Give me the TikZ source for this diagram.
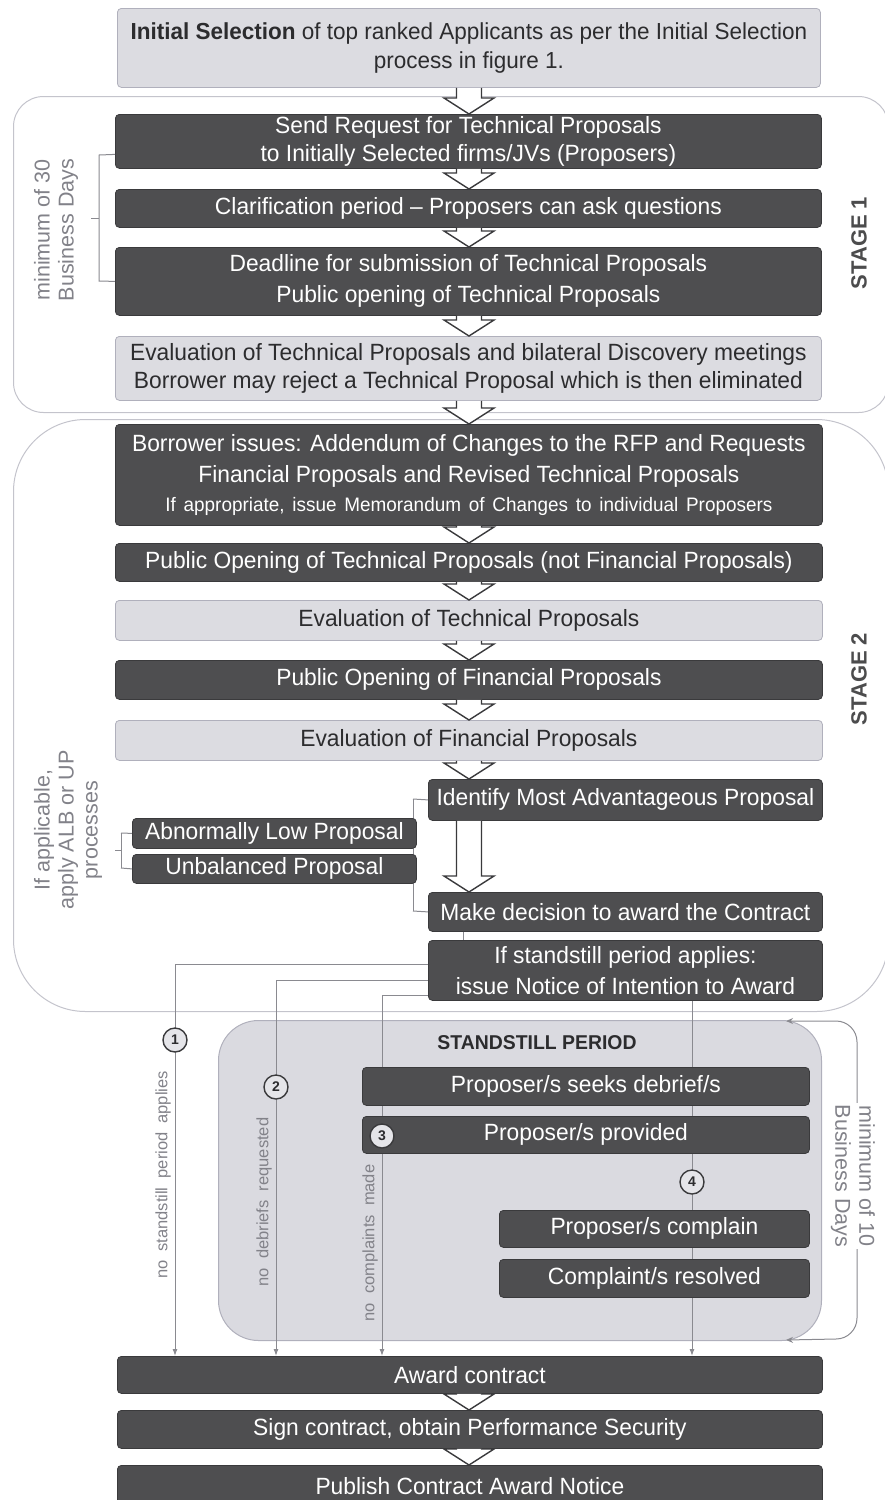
\documentclass[tikz,border=0pt]{standalone}
\usepackage{fontspec}
\setmainfont{Liberation Sans}
\newfontfamily\bxfont{Liberation Sans}[FakeStretch=0.97]
\usetikzlibrary{arrows.meta,calc}
\definecolor{dk}{HTML}{4E4E50}
\definecolor{dkedge}{HTML}{3A3A3C}
\definecolor{lt}{HTML}{DCDCE1}
\definecolor{ltedge}{HTML}{B0B0BC}
\definecolor{stageedge}{HTML}{C4C4CC}
\definecolor{ssfill}{HTML}{DADAE0}
\definecolor{conn}{HTML}{8A8A90}
\definecolor{sidetxt}{HTML}{828289}
\definecolor{txt}{HTML}{2C2C2E}
\newcommand\widesp[1]{\spaceskip=#1\relax}
\newcommand\holarrow[2]{%
  \draw[holstyle] let \p1=(#1.south), \p2=(#2.north), \p3=(469,0) in
    (\x3-12.5pt,\y1) -- (\x3-12.5pt,\y2+16pt) -- (\x3-25pt,\y2+16pt) -- (\x3,\y2)
    -- (\x3+25pt,\y2+16pt) -- (\x3+12.5pt,\y2+16pt) -- (\x3+12.5pt,\y1);}
\begin{document}
\begin{tikzpicture}[x=1pt,y=-1pt,
  darkbox/.style={rectangle, rounded corners=4pt, fill=dk, draw=dkedge, line width=0.8pt,
    text=white, align=center, inner sep=0pt, anchor=north west,
    font=\bxfont\fontsize{23.5}{28}\selectfont},
  lightbox/.style={darkbox, fill=lt, draw=ltedge, text=txt},
  stagebox/.style={rectangle, draw=stageedge, fill=white, line width=1pt, anchor=north west, inner sep=0pt},
  ssbox/.style={rectangle, rounded corners=40pt, draw=ltedge, fill=ssfill, line width=1pt, anchor=north west, inner sep=0pt},
  holstyle/.style={draw=dkedge, fill=white, line width=1.4pt, line join=miter},
  connline/.style={draw=conn, line width=1pt},
  connarrow/.style={connline, -{Latex[length=7pt,width=5pt]}},
  brk/.style={draw=conn, line width=1pt},
  numcirc/.style={circle, draw=dkedge, fill=ssfill!70!white, line width=1.4pt, minimum size=24pt, inner sep=0pt,
    font=\bfseries\fontsize{14}{14}\selectfont, text=txt},
  sidelabel/.style={text=sidetxt, align=center, font=\fontsize{21.5}{24}\selectfont},
  condlabel/.style={text=sidetxt, font=\fontsize{16.5}{18}\selectfont, rotate=90},
  stagelabel/.style={text=txt!85!white, font=\bfseries\fontsize{22}{24}\selectfont, rotate=90}
]
\useasboundingbox (0,0) rectangle (884,1500);

% containers
\node[stagebox, rounded corners=30pt, minimum width=875pt, minimum height=316pt] (st1) at (13,96) {};
\node[stagebox, rounded corners=72pt, minimum width=875pt, minimum height=592pt] (st2) at (13,419) {};
\node[ssbox, minimum width=603pt, minimum height=320pt] (ss) at (218,1020) {};

% boxes
\node[lightbox, minimum width=703pt, minimum height=79pt, font=\bxfont\fontsize{23.2}{29}\selectfont] (top) at (117,8)
  {\textbf{Initial Selection} of top ranked Applicants as per the Initial Selection\\process in figure 1.};
\node[darkbox, minimum width=706pt, minimum height=54pt] (send) at (115,114)
  {Send Request for Technical Proposals\\to Initially Selected firms/JVs (Proposers)};
\node[darkbox, minimum width=706pt, minimum height=38pt] (clar) at (115,189)
  {Clarification period – Proposers can ask questions};
\node[darkbox, minimum width=706pt, minimum height=68pt] (dead) at (115,247)
  {Deadline for submission of Technical Proposals\\[3pt]Public opening of Technical Proposals};
\node[lightbox, minimum width=706pt, minimum height=64pt] (evt1) at (115,336)
  {Evaluation of Technical Proposals and bilateral Discovery meetings\\Borrower may reject a Technical Proposal which is then eliminated};
\node[darkbox, minimum width=707pt, minimum height=101pt] (borr) at (115,424)
  {Borrower issues: Addendum of Changes to the RFP and Requests\\[3pt]Financial Proposals and Revised Technical Proposals\\[1pt]
   {\fontsize{19.5}{24}\selectfont\widesp{0.4em}If appropriate, issue Memorandum of Changes to individual Proposers}};
\node[darkbox, minimum width=707pt, minimum height=38pt] (pot) at (115,543)
  {Public Opening of Technical Proposals (not Financial Proposals)};
\node[lightbox, minimum width=707pt, minimum height=40pt] (evt2) at (115,600)
  {Evaluation of Technical Proposals};
\node[darkbox, minimum width=707pt, minimum height=39pt] (pof) at (115,660)
  {Public Opening of Financial Proposals};
\node[lightbox, minimum width=707pt, minimum height=40pt] (evf) at (115,720)
  {Evaluation of Financial Proposals};

% brackets
\draw[brk] ([yshift=-13pt]send.west) -- (99,155) -- (99,281) -- (dead.west);
\draw[brk] (99,218) -- (91,218);
\draw[brk] (413,799) -- (413,911);
\draw[brk] (121,833) -- (121,868);
\draw[brk] (121,850) -- (115,850);

\coordinate (xa) at (175,0);
\coordinate (xb) at (276,0);
\coordinate (xc) at (382,0);
\coordinate (xd) at (692,0);
\coordinate (xm) at (463,0);

\node[darkbox, minimum width=394pt, minimum height=41pt] (ident) at (428,779)
  {Identify Most Advantageous Proposal};
\node[darkbox, minimum width=284pt, minimum height=30pt] (abn) at (132,818)
  {Abnormally Low Proposal};
\node[darkbox, minimum width=284pt, minimum height=29pt] (unb) at (132,854)
  {Unbalanced Proposal};
\node[darkbox, minimum width=394pt, minimum height=39pt] (make) at (428,892)
  {Make decision to award the Contract};
\node[darkbox, minimum width=394pt, minimum height=60pt] (notice) at (428,940)
  {If standstill period applies:\\[3pt]issue Notice of Intention to Award};
\node[darkbox, minimum width=705pt, minimum height=37pt] (award) at (117,1356)
  {Award contract};

\draw[brk] (ident.west) -- (413,799);
\draw[brk] (make.west) -- (413,911);
\draw[brk] (abn.west) -- (121,833);
\draw[brk] (unb.west) -- (121,868);

\draw[connline] (make.south -| xm) -- (notice.north -| xm);
\draw[connarrow] ([yshift=6pt]notice.west) -| (award.north -| xa);
\draw[connarrow] ([yshift=-10pt]notice.west) -| (award.north -| xb);
\draw[connarrow] ([yshift=-25pt]notice.west) -| (award.north -| xc);
\draw[connarrow] (notice.south -| xd) -- (award.north -| xd);

% standstill boxes
\node[font=\bxfont\bfseries\fontsize{20}{22}\selectfont, text=txt] (sslab) at (537,1043) {STANDSTILL PERIOD};
\node[darkbox, minimum width=447pt, minimum height=38pt] (seek) at (362,1067) {Proposer/s seeks debrief/s};
\node[darkbox, minimum width=447pt, minimum height=37pt] (prov) at (362,1116) {Proposer/s provided};
\node[darkbox, minimum width=310pt, minimum height=37pt] (compl) at (499,1210) {Proposer/s complain};
\node[darkbox, minimum width=310pt, minimum height=38pt] (resol) at (499,1259) {Complaint/s resolved};

\node[darkbox, minimum width=705pt, minimum height=38pt] (sign) at (117,1410)
  {Sign contract, obtain Performance Security};
\node[darkbox, minimum width=705pt, minimum height=42pt] (publ) at (117,1465)
  {Publish Contract Award Notice};

% hollow arrows
\holarrow{top}{send}
\holarrow{send}{clar}
\holarrow{clar}{dead}
\holarrow{dead}{evt1}
\holarrow{evt1}{borr}
\holarrow{borr}{pot}
\holarrow{pot}{evt2}
\holarrow{evt2}{pof}
\holarrow{pof}{evf}
\holarrow{evf}{ident}
\holarrow{ident}{make}
\holarrow{award}{sign}
\holarrow{sign}{publ}

% right bracket of standstill period
\draw[brk, {Stealth[length=7pt,width=6pt]}-{Stealth[length=7pt,width=6pt]}]
  ([xshift=-36pt,yshift=-1pt]ss.north east) -- (836,1021) to[out=0,in=90] (857,1042)
  -- (857,1318) to[out=-90,in=0] (836,1339) -- ([xshift=-36pt,yshift=1pt]ss.south east);
\node[sidelabel, rotate=-90, fill=white, inner sep=2pt] (min10) at (853,1176) {minimum of 10\\Business Days};

% number circles
\node[numcirc] (n1) at (175,1040) {1};
\node[numcirc] (n2) at (276,1087) {2};
\node[numcirc] (n3) at (382,1136) {3};
\node[numcirc] (n4) at (692,1182) {4};

% side labels
\node[sidelabel, rotate=90] (min30) at (56,230) {minimum of 30\\Business Days};
\node[sidelabel, rotate=90] (albup) at (68,830) {If applicable,\\apply ALB or UP\\processes};
\node[stagelabel] (s1) at (859,243) {STAGE 1};
\node[stagelabel] (s2) at (859,679) {STAGE 2};
\node[condlabel] (c1) at (163,1175) {\widesp{0.55em}no standstill period applies};
\node[condlabel] (c2) at (264,1202) {\widesp{0.55em}no debriefs requested};
\node[condlabel] (c3) at (370,1243) {\widesp{0.55em}no complaints made};
\end{tikzpicture}
\end{document}
